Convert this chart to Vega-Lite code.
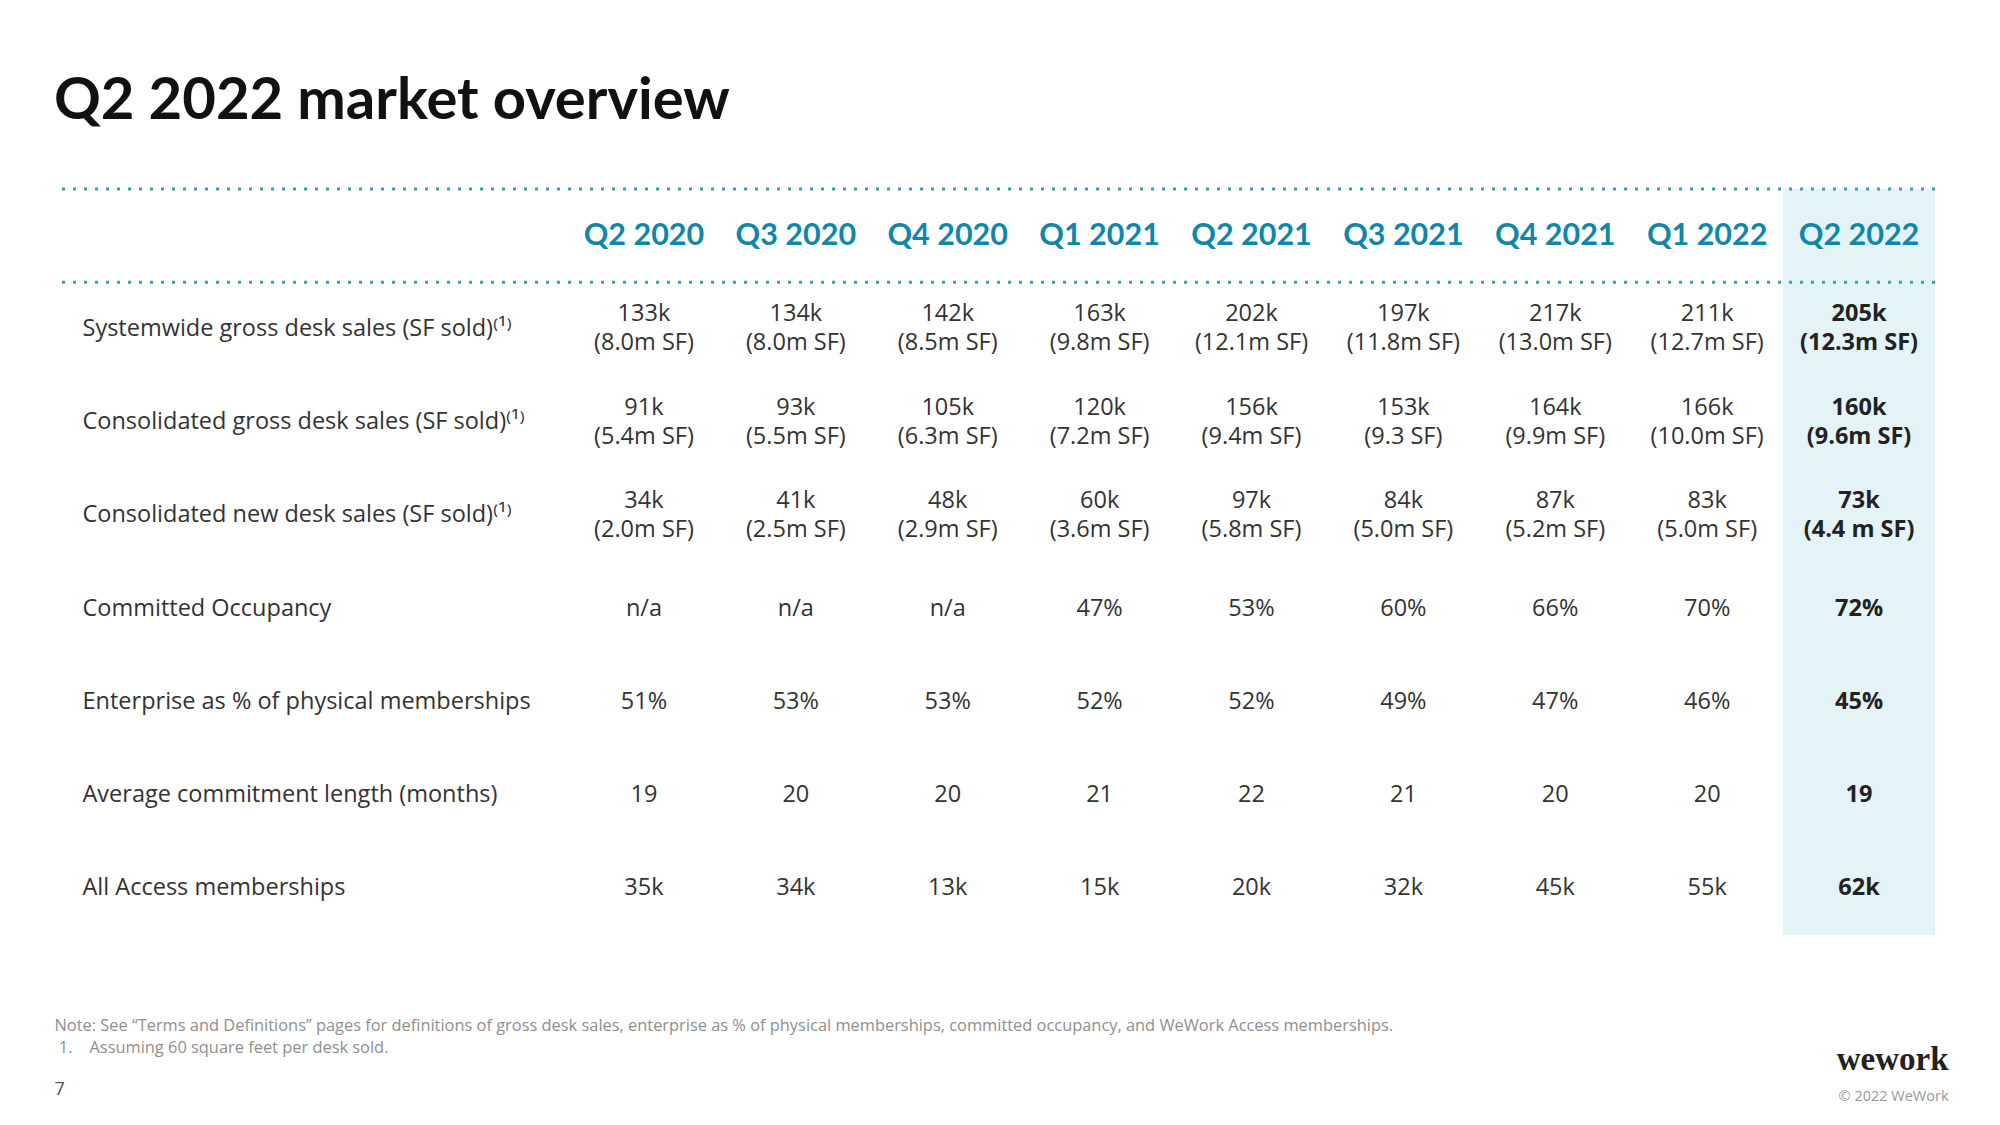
{
  "$schema": "https://vega.github.io/schema/vega-lite/v6.json",
  "width": 1874,
  "height": 746,
  "autosize": {"type": "none"},
  "padding": {"left": 61, "top": 189, "right": 65, "bottom": 190},
  "background": "white",
  "config": {"view": {"stroke": null}, "font": "Open Sans", "axis": {"grid": false}},
  "title": {
    "text": "Q2 2022 market overview",
    "anchor": "start",
    "frame": "group",
    "font": "Lato",
    "fontSize": 58,
    "fontWeight": 700,
    "color": "#111111",
    "baseline": "alphabetic",
    "offset": 68,
    "dx": -7,
    "dy": 57
  },
  "datasets": {
    "quarters": [
      {"quarter": "Q2 2020"}, {"quarter": "Q3 2020"}, {"quarter": "Q4 2020"},
      {"quarter": "Q1 2021"}, {"quarter": "Q2 2021"}, {"quarter": "Q3 2021"},
      {"quarter": "Q4 2021"}, {"quarter": "Q1 2022"}, {"quarter": "Q2 2022"}
    ],
    "edges": [{"edge": "header"}],
    "cells": [
      {"metric": "Systemwide gross desk sales (SF sold)⁽¹⁾", "quarter": "Q2 2020", "value": "133k\n(8.0m SF)"},
      {"metric": "Systemwide gross desk sales (SF sold)⁽¹⁾", "quarter": "Q3 2020", "value": "134k\n(8.0m SF)"},
      {"metric": "Systemwide gross desk sales (SF sold)⁽¹⁾", "quarter": "Q4 2020", "value": "142k\n(8.5m SF)"},
      {"metric": "Systemwide gross desk sales (SF sold)⁽¹⁾", "quarter": "Q1 2021", "value": "163k\n(9.8m SF)"},
      {"metric": "Systemwide gross desk sales (SF sold)⁽¹⁾", "quarter": "Q2 2021", "value": "202k\n(12.1m SF)"},
      {"metric": "Systemwide gross desk sales (SF sold)⁽¹⁾", "quarter": "Q3 2021", "value": "197k\n(11.8m SF)"},
      {"metric": "Systemwide gross desk sales (SF sold)⁽¹⁾", "quarter": "Q4 2021", "value": "217k\n(13.0m SF)"},
      {"metric": "Systemwide gross desk sales (SF sold)⁽¹⁾", "quarter": "Q1 2022", "value": "211k\n(12.7m SF)"},
      {"metric": "Systemwide gross desk sales (SF sold)⁽¹⁾", "quarter": "Q2 2022", "value": "205k\n(12.3m SF)"},
      {"metric": "Consolidated gross desk sales (SF sold)⁽¹⁾", "quarter": "Q2 2020", "value": "91k\n(5.4m SF)"},
      {"metric": "Consolidated gross desk sales (SF sold)⁽¹⁾", "quarter": "Q3 2020", "value": "93k\n(5.5m SF)"},
      {"metric": "Consolidated gross desk sales (SF sold)⁽¹⁾", "quarter": "Q4 2020", "value": "105k\n(6.3m SF)"},
      {"metric": "Consolidated gross desk sales (SF sold)⁽¹⁾", "quarter": "Q1 2021", "value": "120k\n(7.2m SF)"},
      {"metric": "Consolidated gross desk sales (SF sold)⁽¹⁾", "quarter": "Q2 2021", "value": "156k\n(9.4m SF)"},
      {"metric": "Consolidated gross desk sales (SF sold)⁽¹⁾", "quarter": "Q3 2021", "value": "153k\n(9.3 SF)"},
      {"metric": "Consolidated gross desk sales (SF sold)⁽¹⁾", "quarter": "Q4 2021", "value": "164k\n(9.9m SF)"},
      {"metric": "Consolidated gross desk sales (SF sold)⁽¹⁾", "quarter": "Q1 2022", "value": "166k\n(10.0m SF)"},
      {"metric": "Consolidated gross desk sales (SF sold)⁽¹⁾", "quarter": "Q2 2022", "value": "160k\n(9.6m SF)"},
      {"metric": "Consolidated new desk sales (SF sold)⁽¹⁾", "quarter": "Q2 2020", "value": "34k\n(2.0m SF)"},
      {"metric": "Consolidated new desk sales (SF sold)⁽¹⁾", "quarter": "Q3 2020", "value": "41k\n(2.5m SF)"},
      {"metric": "Consolidated new desk sales (SF sold)⁽¹⁾", "quarter": "Q4 2020", "value": "48k\n(2.9m SF)"},
      {"metric": "Consolidated new desk sales (SF sold)⁽¹⁾", "quarter": "Q1 2021", "value": "60k\n(3.6m SF)"},
      {"metric": "Consolidated new desk sales (SF sold)⁽¹⁾", "quarter": "Q2 2021", "value": "97k\n(5.8m SF)"},
      {"metric": "Consolidated new desk sales (SF sold)⁽¹⁾", "quarter": "Q3 2021", "value": "84k\n(5.0m SF)"},
      {"metric": "Consolidated new desk sales (SF sold)⁽¹⁾", "quarter": "Q4 2021", "value": "87k\n(5.2m SF)"},
      {"metric": "Consolidated new desk sales (SF sold)⁽¹⁾", "quarter": "Q1 2022", "value": "83k\n(5.0m SF)"},
      {"metric": "Consolidated new desk sales (SF sold)⁽¹⁾", "quarter": "Q2 2022", "value": "73k\n(4.4 m SF)"},
      {"metric": "Committed Occupancy", "quarter": "Q2 2020", "value": "n/a"},
      {"metric": "Committed Occupancy", "quarter": "Q3 2020", "value": "n/a"},
      {"metric": "Committed Occupancy", "quarter": "Q4 2020", "value": "n/a"},
      {"metric": "Committed Occupancy", "quarter": "Q1 2021", "value": "47%"},
      {"metric": "Committed Occupancy", "quarter": "Q2 2021", "value": "53%"},
      {"metric": "Committed Occupancy", "quarter": "Q3 2021", "value": "60%"},
      {"metric": "Committed Occupancy", "quarter": "Q4 2021", "value": "66%"},
      {"metric": "Committed Occupancy", "quarter": "Q1 2022", "value": "70%"},
      {"metric": "Committed Occupancy", "quarter": "Q2 2022", "value": "72%"},
      {"metric": "Enterprise as % of physical memberships", "quarter": "Q2 2020", "value": "51%"},
      {"metric": "Enterprise as % of physical memberships", "quarter": "Q3 2020", "value": "53%"},
      {"metric": "Enterprise as % of physical memberships", "quarter": "Q4 2020", "value": "53%"},
      {"metric": "Enterprise as % of physical memberships", "quarter": "Q1 2021", "value": "52%"},
      {"metric": "Enterprise as % of physical memberships", "quarter": "Q2 2021", "value": "52%"},
      {"metric": "Enterprise as % of physical memberships", "quarter": "Q3 2021", "value": "49%"},
      {"metric": "Enterprise as % of physical memberships", "quarter": "Q4 2021", "value": "47%"},
      {"metric": "Enterprise as % of physical memberships", "quarter": "Q1 2022", "value": "46%"},
      {"metric": "Enterprise as % of physical memberships", "quarter": "Q2 2022", "value": "45%"},
      {"metric": "Average commitment length (months)", "quarter": "Q2 2020", "value": "19"},
      {"metric": "Average commitment length (months)", "quarter": "Q3 2020", "value": "20"},
      {"metric": "Average commitment length (months)", "quarter": "Q4 2020", "value": "20"},
      {"metric": "Average commitment length (months)", "quarter": "Q1 2021", "value": "21"},
      {"metric": "Average commitment length (months)", "quarter": "Q2 2021", "value": "22"},
      {"metric": "Average commitment length (months)", "quarter": "Q3 2021", "value": "21"},
      {"metric": "Average commitment length (months)", "quarter": "Q4 2021", "value": "20"},
      {"metric": "Average commitment length (months)", "quarter": "Q1 2022", "value": "20"},
      {"metric": "Average commitment length (months)", "quarter": "Q2 2022", "value": "19"},
      {"metric": "All Access memberships", "quarter": "Q2 2020", "value": "35k"},
      {"metric": "All Access memberships", "quarter": "Q3 2020", "value": "34k"},
      {"metric": "All Access memberships", "quarter": "Q4 2020", "value": "13k"},
      {"metric": "All Access memberships", "quarter": "Q1 2021", "value": "15k"},
      {"metric": "All Access memberships", "quarter": "Q2 2021", "value": "20k"},
      {"metric": "All Access memberships", "quarter": "Q3 2021", "value": "32k"},
      {"metric": "All Access memberships", "quarter": "Q4 2021", "value": "45k"},
      {"metric": "All Access memberships", "quarter": "Q1 2022", "value": "55k"},
      {"metric": "All Access memberships", "quarter": "Q2 2022", "value": "62k"}
    ]
  },
  "layer": [
    {
      "data": {"name": "quarters"},
      "transform": [{"filter": "datum.quarter === 'Q2 2022'"}],
      "mark": {"type": "rect", "color": "#e4f3f5"},
      "encoding": {
        "x": {
          "field": "quarter", "type": "nominal",
          "scale": {"type": "band", "domain": ["Q2 2020", "Q3 2020", "Q4 2020", "Q1 2021", "Q2 2021", "Q3 2021", "Q4 2021", "Q1 2022", "Q2 2022"], "range": [507, 1874], "paddingInner": 0, "paddingOuter": 0},
          "axis": {
            "orient": "bottom", "labels": false, "ticks": false, "domain": false,
            "title": ["Note: See “Terms and Definitions” pages for definitions of gross desk sales, enterprise as % of physical memberships, committed occupancy, and WeWork Access memberships.", "\u200b\u00a01.\u00a0\u00a0\u00a0\u00a0Assuming 60 square feet per desk sold."],
            "titleX": -7, "titleY": 95, "titleAlign": "left", "titleAnchor": "start", "titleBaseline": "alphabetic",
            "titleFont": "Open Sans", "titleFontSize": 16.4, "titleFontWeight": 400, "titleColor": "#8f8f8f", "titleLineHeight": 22
          }
        }
      }
    },
    {
      "data": {"name": "edges"},
      "mark": {"type": "rule", "color": "#3f9fae", "strokeWidth": 3, "strokeDash": [3, 8]},
      "encoding": {
        "y": {
          "field": "edge", "type": "nominal", "bandPosition": 0,
          "scale": {"type": "band", "domain": ["header", "Systemwide gross desk sales (SF sold)⁽¹⁾", "Consolidated gross desk sales (SF sold)⁽¹⁾", "Consolidated new desk sales (SF sold)⁽¹⁾", "Committed Occupancy", "Enterprise as % of physical memberships", "Average commitment length (months)", "All Access memberships"], "paddingInner": 0, "paddingOuter": 0},
          "axis": null
        }
      }
    },
    {
      "data": {"name": "edges"},
      "mark": {"type": "rule", "color": "#3f9fae", "strokeWidth": 3, "strokeDash": [3, 8]},
      "encoding": {
        "y": {
          "field": "edge", "type": "nominal", "bandPosition": 1,
          "scale": {"type": "band", "domain": ["header", "Systemwide gross desk sales (SF sold)⁽¹⁾", "Consolidated gross desk sales (SF sold)⁽¹⁾", "Consolidated new desk sales (SF sold)⁽¹⁾", "Committed Occupancy", "Enterprise as % of physical memberships", "Average commitment length (months)", "All Access memberships"], "paddingInner": 0, "paddingOuter": 0},
          "axis": null
        }
      }
    },
    {
      "data": {"name": "quarters"},
      "mark": {"type": "text", "font": "Lato", "fontSize": 30.5, "fontWeight": 700, "color": "#0f87a9", "baseline": "middle"},
      "encoding": {
        "x": {
          "field": "quarter", "type": "nominal",
          "scale": {"type": "band", "domain": ["Q2 2020", "Q3 2020", "Q4 2020", "Q1 2021", "Q2 2021", "Q3 2021", "Q4 2021", "Q1 2022", "Q2 2022"], "range": [507, 1874], "paddingInner": 0, "paddingOuter": 0},
          "axis": {
            "orient": "top", "labels": false, "ticks": false, "domain": false,
            "title": "7", "titleX": -7, "titleY": 905, "titleAlign": "left", "titleAnchor": "start", "titleBaseline": "alphabetic",
            "titleFont": "Open Sans", "titleFontSize": 18, "titleFontWeight": 400, "titleColor": "#555555"
          }
        },
        "y": {"datum": "header", "type": "nominal", "scale": {"type": "band", "domain": ["header", "Systemwide gross desk sales (SF sold)⁽¹⁾", "Consolidated gross desk sales (SF sold)⁽¹⁾", "Consolidated new desk sales (SF sold)⁽¹⁾", "Committed Occupancy", "Enterprise as % of physical memberships", "Average commitment length (months)", "All Access memberships"], "paddingInner": 0, "paddingOuter": 0}, "axis": null},
        "text": {"field": "quarter", "type": "nominal"}
      }
    },
    {
      "data": {"name": "cells"},
      "transform": [{"filter": "datum.quarter !== 'Q2 2022' && indexof(datum.value, '\\n') >= 0"}],
      "mark": {"type": "text", "font": "Open Sans", "fontSize": 23.5, "fontWeight": 400, "color": "#333333", "baseline": "middle", "lineBreak": "\n", "lineHeight": 29, "dy": -14.5},
      "encoding": {
        "x": {
          "field": "quarter", "type": "nominal",
          "scale": {"type": "band", "domain": ["Q2 2020", "Q3 2020", "Q4 2020", "Q1 2021", "Q2 2021", "Q3 2021", "Q4 2021", "Q1 2022", "Q2 2022"], "range": [507, 1874], "paddingInner": 0, "paddingOuter": 0},
          "axis": null
        },
        "y": {
          "field": "metric", "type": "nominal",
          "scale": {"type": "band", "domain": ["header", "Systemwide gross desk sales (SF sold)⁽¹⁾", "Consolidated gross desk sales (SF sold)⁽¹⁾", "Consolidated new desk sales (SF sold)⁽¹⁾", "Committed Occupancy", "Enterprise as % of physical memberships", "Average commitment length (months)", "All Access memberships"], "paddingInner": 0, "paddingOuter": 0},
          "axis": null
        },
        "text": {"field": "value", "type": "nominal"}
      }
    },
    {
      "data": {"name": "cells"},
      "transform": [{"filter": "datum.quarter !== 'Q2 2022' && indexof(datum.value, '\\n') < 0"}],
      "mark": {"type": "text", "font": "Open Sans", "fontSize": 23.5, "fontWeight": 400, "color": "#333333", "baseline": "middle"},
      "encoding": {
        "x": {
          "field": "quarter", "type": "nominal",
          "scale": {"type": "band", "domain": ["Q2 2020", "Q3 2020", "Q4 2020", "Q1 2021", "Q2 2021", "Q3 2021", "Q4 2021", "Q1 2022", "Q2 2022"], "range": [507, 1874], "paddingInner": 0, "paddingOuter": 0},
          "axis": null
        },
        "y": {
          "field": "metric", "type": "nominal",
          "scale": {"type": "band", "domain": ["header", "Systemwide gross desk sales (SF sold)⁽¹⁾", "Consolidated gross desk sales (SF sold)⁽¹⁾", "Consolidated new desk sales (SF sold)⁽¹⁾", "Committed Occupancy", "Enterprise as % of physical memberships", "Average commitment length (months)", "All Access memberships"], "paddingInner": 0, "paddingOuter": 0},
          "axis": {
            "orient": "left", "ticks": false, "domain": false, "tickSize": 0, "labelPadding": -21,
            "labelAlign": "left", "labelBaseline": "middle", "labelFont": "Open Sans", "labelFontSize": 23.5, "labelColor": "#333333", "labelLimit": 0,
            "labelExpr": "datum.value === 'header' ? '' : datum.value",
            "title": "© 2022 WeWork", "titleAngle": 0, "titleX": 1887, "titleY": 911, "titleAlign": "right", "titleBaseline": "alphabetic",
            "titleFont": "Open Sans", "titleFontSize": 14.5, "titleFontWeight": 400, "titleColor": "#999999"
          }
        },
        "text": {"field": "value", "type": "nominal"}
      }
    },
    {
      "data": {"name": "cells"},
      "transform": [{"filter": "datum.quarter === 'Q2 2022' && indexof(datum.value, '\\n') >= 0"}],
      "mark": {"type": "text", "font": "Open Sans", "fontSize": 23.5, "fontWeight": 700, "color": "#222222", "baseline": "middle", "lineBreak": "\n", "lineHeight": 29, "dy": -14.5},
      "encoding": {
        "x": {
          "field": "quarter", "type": "nominal",
          "scale": {"type": "band", "domain": ["Q2 2020", "Q3 2020", "Q4 2020", "Q1 2021", "Q2 2021", "Q3 2021", "Q4 2021", "Q1 2022", "Q2 2022"], "range": [507, 1874], "paddingInner": 0, "paddingOuter": 0},
          "axis": null
        },
        "y": {
          "field": "metric", "type": "nominal",
          "scale": {"type": "band", "domain": ["header", "Systemwide gross desk sales (SF sold)⁽¹⁾", "Consolidated gross desk sales (SF sold)⁽¹⁾", "Consolidated new desk sales (SF sold)⁽¹⁾", "Committed Occupancy", "Enterprise as % of physical memberships", "Average commitment length (months)", "All Access memberships"], "paddingInner": 0, "paddingOuter": 0},
          "axis": null
        },
        "text": {"field": "value", "type": "nominal"}
      }
    },
    {
      "data": {"name": "cells"},
      "transform": [{"filter": "datum.quarter === 'Q2 2022' && indexof(datum.value, '\\n') < 0"}],
      "mark": {"type": "text", "font": "Open Sans", "fontSize": 23.5, "fontWeight": 700, "color": "#222222", "baseline": "middle"},
      "encoding": {
        "x": {
          "field": "quarter", "type": "nominal",
          "scale": {"type": "band", "domain": ["Q2 2020", "Q3 2020", "Q4 2020", "Q1 2021", "Q2 2021", "Q3 2021", "Q4 2021", "Q1 2022", "Q2 2022"], "range": [507, 1874], "paddingInner": 0, "paddingOuter": 0},
          "axis": null
        },
        "y": {
          "field": "metric", "type": "nominal",
          "scale": {"type": "band", "domain": ["header", "Systemwide gross desk sales (SF sold)⁽¹⁾", "Consolidated gross desk sales (SF sold)⁽¹⁾", "Consolidated new desk sales (SF sold)⁽¹⁾", "Committed Occupancy", "Enterprise as % of physical memberships", "Average commitment length (months)", "All Access memberships"], "paddingInner": 0, "paddingOuter": 0},
          "axis": {
            "orient": "right", "labels": false, "ticks": false, "domain": false,
            "title": "wework", "titleAngle": 0, "titleX": 13, "titleY": 880, "titleAlign": "right", "titleBaseline": "alphabetic",
            "titleFont": "Liberation Serif", "titleFontSize": 33, "titleFontWeight": 700, "titleColor": "#222222"
          }
        },
        "text": {"field": "value", "type": "nominal"}
      }
    }
  ],
  "resolve": {"axis": {"x": "independent", "y": "independent"}}
}
